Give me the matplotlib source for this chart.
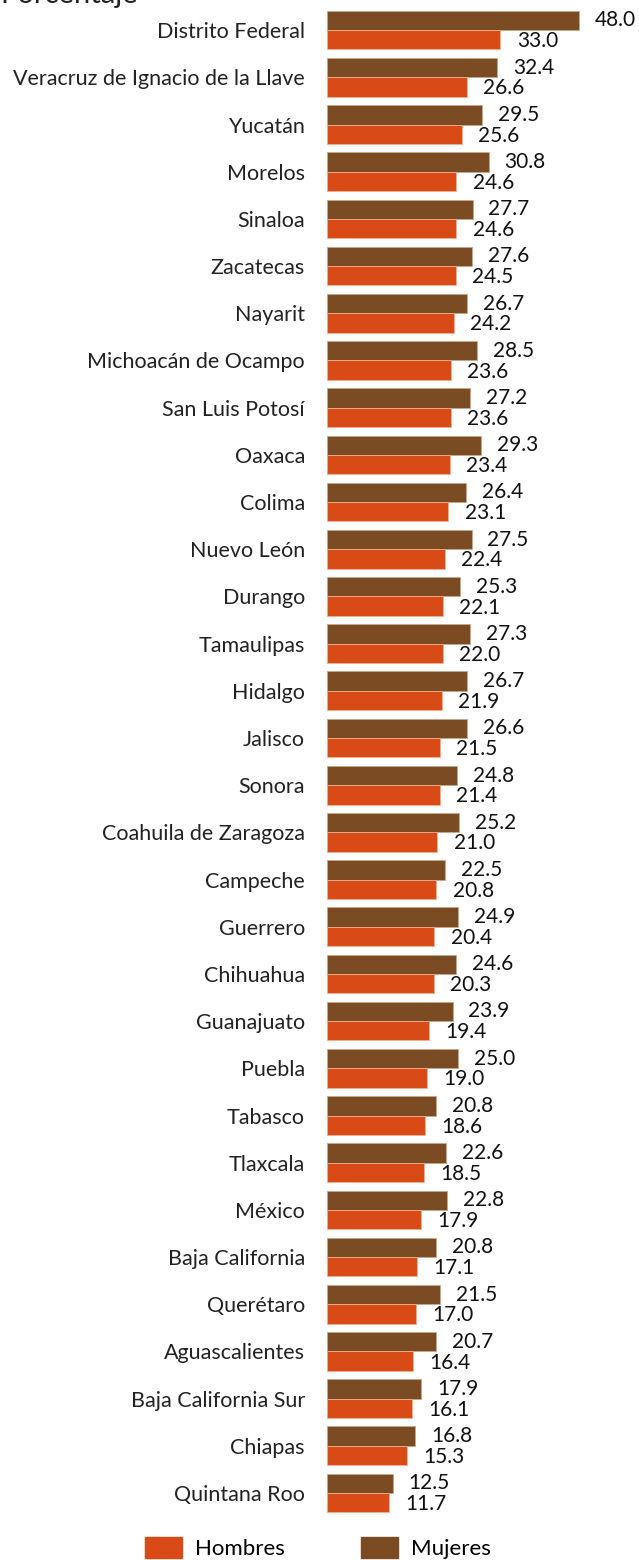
import matplotlib
matplotlib.use("Agg")
import matplotlib.pyplot as plt
import matplotlib.patches as mpatches
import numpy as np

plt.rcParams['font.family'] = ['Lato', 'DejaVu Sans']

estados = ["Distrito Federal", "Veracruz de Ignacio de la Llave", "Yucatán", "Morelos",
           "Sinaloa", "Zacatecas", "Nayarit", "Michoacán de Ocampo", "San Luis Potosí",
           "Oaxaca", "Colima", "Nuevo León", "Durango", "Tamaulipas", "Hidalgo", "Jalisco",
           "Sonora", "Coahuila de Zaragoza", "Campeche", "Guerrero", "Chihuahua",
           "Guanajuato", "Puebla", "Tabasco", "Tlaxcala", "México", "Baja California",
           "Querétaro", "Aguascalientes", "Baja California Sur", "Chiapas", "Quintana Roo"]
mujeres = [48.0, 32.4, 29.5, 30.8, 27.7, 27.6, 26.7, 28.5, 27.2, 29.3, 26.4, 27.5, 25.3,
           27.3, 26.7, 26.6, 24.8, 25.2, 22.5, 24.9, 24.6, 23.9, 25.0, 20.8, 22.6, 22.8,
           20.8, 21.5, 20.7, 17.9, 16.8, 12.5]
hombres = [33.0, 26.6, 25.6, 24.6, 24.6, 24.5, 24.2, 23.6, 23.6, 23.4, 23.1, 22.4, 22.1,
           22.0, 21.9, 21.5, 21.4, 21.0, 20.8, 20.4, 20.3, 19.4, 19.0, 18.6, 18.5, 17.9,
           17.1, 17.0, 16.4, 16.1, 15.3, 11.7]

c_muj = "#7b4b24"
c_hom = "#d84b16"

fig = plt.figure(figsize=(6.39, 15.6), dpi=100)
ax = fig.add_axes([0.512, 0.0278, 0.488, 0.968])

y = np.arange(len(estados))
h = 0.41
ax.barh(y - h / 2, mujeres, height=h, color=c_muj, edgecolor="#c8a888", linewidth=0.6)
ax.barh(y + h / 2, hombres, height=h, color=c_hom, edgecolor="#f0b090", linewidth=0.6)

# valores al final de cada barra
for yi, m, hv in zip(y, mujeres, hombres):
    ax.text(m + 3.0, yi - h / 2, f"{m:.1f}", va="center", ha="left", fontsize=15, color="#111111")
    ax.text(hv + 3.1, yi + h / 2 + 0.03, f"{hv:.1f}", va="center", ha="left", fontsize=15, color="#111111")

ax.set_xlim(0, 59.4)
ax.set_ylim(len(estados) - 0.5, -0.5)
ax.set_yticks(y)
ax.set_yticklabels(estados, fontsize=15.5, color="#222222")
ax.tick_params(axis="y", length=0, pad=16)
ax.set_xticks([])
for s in ax.spines.values():
    s.set_visible(False)

fig.text(0.0, 1 - 3.5 / 1560, "Porcentaje", fontsize=21, ha="left", va="baseline", color="#222222")

handles = [mpatches.Patch(color=c_hom, label="Hombres"),
           mpatches.Patch(color=c_muj, label="Mujeres")]
fig.legend(handles=handles, loc="upper left", bbox_to_anchor=(145 / 639, 1 - 1537 / 1560),
           ncol=2, frameon=False, fontsize=16, handlelength=1.67, handleheight=1.08,
           handletextpad=0.59, columnspacing=3.4, borderpad=0, borderaxespad=0)

fig.savefig("out.png", dpi=100)
